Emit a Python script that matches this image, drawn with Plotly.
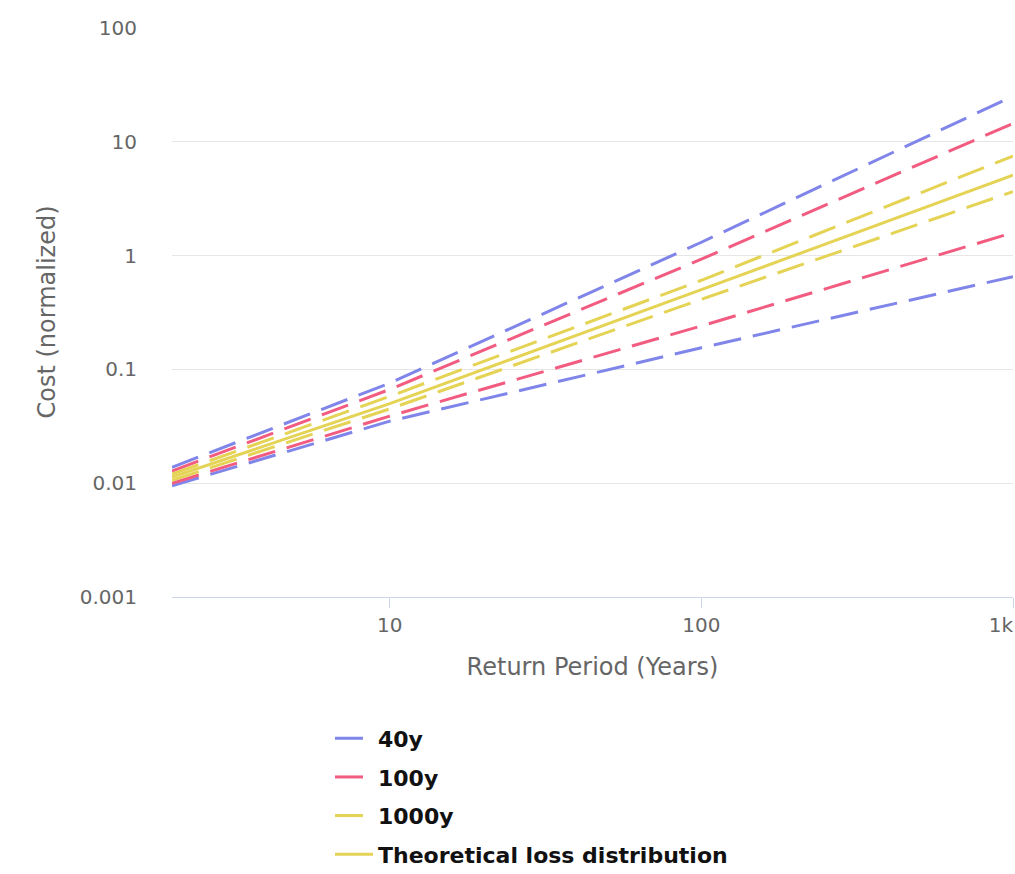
import plotly.graph_objects as go

# Return periods (years) at which values were read
return_period = [2, 10, 100, 1000]

# Confidence bounds for each record length (normalized cost)
upper_40y = [0.0138, 0.0758, 1.31, 25.2]
lower_40y = [0.0095, 0.0351, 0.155, 0.653]
upper_100y = [0.0128, 0.0667, 0.93, 14.5]
lower_100y = [0.0100, 0.0389, 0.241, 1.59]
upper_1000y = [0.0120, 0.058, 0.607, 7.5]
lower_1000y = [0.0106, 0.045, 0.413, 3.65]
theoretical = [0.0113, 0.050, 0.502, 5.1]

y_tickvals = [0.001, 0.01, 0.1, 1, 10, 100]
y_ticktext = ["0.001", "0.01", "0.1", "1", "10", "100"]
x_tickvals = [10, 100, 1000]
x_ticktext = ["10", "100", "1k"]

BLUE = "#8085e9"
RED = "#f15c80"
YELLOW = "#e4d354"
DASH = "28px,12px"

fig = go.Figure()

series = [
    ("40y", BLUE, upper_40y, lower_40y),
    ("100y", RED, upper_100y, lower_100y),
    ("1000y", YELLOW, upper_1000y, lower_1000y),
]
for name, color, up, lo in series:
    fig.add_trace(go.Scatter(x=return_period, y=up, mode="lines", name=name,
                             legendgroup=name, showlegend=True,
                             line=dict(color=color, width=3, dash=DASH)))
    fig.add_trace(go.Scatter(x=return_period, y=lo, mode="lines", name=name,
                             legendgroup=name, showlegend=False,
                             line=dict(color=color, width=3, dash=DASH)))

fig.add_trace(go.Scatter(x=return_period, y=theoretical, mode="lines",
                         name="Theoretical loss distribution",
                         legendgroup="theory",
                         line=dict(color=YELLOW, width=3)))

# empty trace so the secondary (label-only) x axis is drawn
fig.add_trace(go.Scatter(x=[], y=[], xaxis="x2", showlegend=False, hoverinfo="skip"))

fig.update_layout(
    width=1015, height=874,
    margin=dict(l=172, r=2, t=28, b=277, autoexpand=False),
    plot_bgcolor="white", paper_bgcolor="white",
    font=dict(family="DejaVu Sans", size=18, color="#666666"),
    legend=dict(orientation="v", x=330 / 1015, xref="container", xanchor="left",
                y=0.179, yref="container", yanchor="top",
                traceorder="grouped", tracegroupgap=7, itemwidth=38,
                font=dict(family="DejaVu Sans", size=22, color="#111111", weight="bold"),
                bgcolor="rgba(0,0,0,0)"),
    showlegend=True,
    xaxis=dict(type="log", range=[0.30103, 3], tickvals=x_tickvals,
               ticktext=x_ticktext[:-1] + [""],
               showgrid=False, showline=True, linecolor="#ccd6eb", linewidth=1,
               ticks="outside", ticklen=10, tickcolor="#ccd6eb",
               tickfont=dict(size=20, color="#666666"),
               title=dict(text="Return Period (Years)",
                          font=dict(size=24, color="#666666"), standoff=22),
               zeroline=False),
    xaxis2=dict(type="log", overlaying="x", anchor="y", side="bottom",
                range=[0.30103, 3], tickvals=x_tickvals[-1:], ticktext=x_ticktext[-1:],
                showgrid=False, showline=False, ticks="outside", ticklen=10,
                tickcolor="rgba(0,0,0,0)", ticklabelshift=-12,
                ticklabeloverflow="allow", zeroline=False, automargin=False,
                tickfont=dict(size=20, color="#666666")),
    yaxis=dict(type="log", range=[-3, 2], tickvals=y_tickvals, ticktext=y_ticktext,
               showgrid=True, gridcolor="#e6e6e6", gridwidth=1,
               showline=False, ticks="outside", ticklen=30, tickcolor="rgba(0,0,0,0)",
               zeroline=False, automargin=False,
               tickfont=dict(size=20, color="#666666")),
    annotations=[dict(text="Cost (normalized)", textangle=-90, showarrow=False,
                      xref="paper", yref="paper", x=(46 - 172) / 841, y=0.5,
                      xanchor="center", yanchor="middle",
                      font=dict(family="DejaVu Sans", size=24, color="#666666"))],
)

fig.write_html("out.html", config={"displayModeBar": False},
               post_script="document.body.style.margin='0px';")
